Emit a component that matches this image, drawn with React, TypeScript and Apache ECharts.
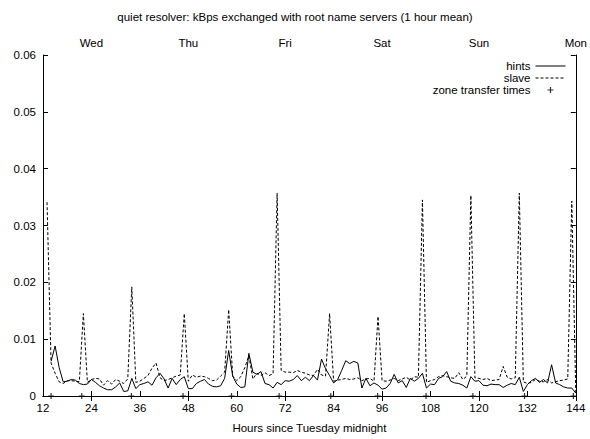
import React, { useEffect, useRef } from "react";
import * as echarts from "echarts";

const titleText = "quiet resolver: kBps exchanged with root name servers (1 hour mean)";
const xAxisName = "Hours since Tuesday midnight";
const firstHour = 13;
const dayTicks = [24, 48, 72, 96, 120, 144];
const dayNames = ["Wed", "Thu", "Fri", "Sat", "Sun", "Mon"];

const hints: (number | null)[] = [
  null, 0.0061, 0.0088, 0.0050, 0.0025, 0.0026, 0.0029, 0.0028, 0.0022, 0.0020,
  0.0021, 0.0029, 0.0024, 0.0018, 0.0014, 0.0011, 0.0011, 0.0016, 0.0023, 0.0008,
  0.0009, 0.0031, 0.0013, 0.0020, 0.0022, 0.0025, 0.0019, 0.0032, 0.0040, 0.0030,
  0.0014, 0.0031, 0.0020, 0.0029, 0.0034, 0.0013, 0.0013, 0.0022, 0.0026, 0.0029,
  0.0021, 0.0017, 0.0016, 0.0018, 0.0031, 0.0080, 0.0035, 0.0021, 0.0015, 0.0016,
  0.0075, 0.0042, 0.0038, 0.0043, 0.0022, 0.0020, 0.0014, 0.0024, 0.0020, 0.0027,
  0.0026, 0.0029, 0.0036, 0.0027, 0.0033, 0.0027, 0.0036, 0.0028, 0.0065, 0.0048,
  0.0036, 0.0023, 0.0029, 0.0045, 0.0062, 0.0057, 0.0061, 0.0058, 0.0014, 0.0031,
  0.0018, 0.0023, 0.0019, 0.0012, 0.0014, 0.0022, 0.0038, 0.0023, 0.0027, 0.0015,
  0.0031, 0.0026, 0.0031, 0.0040, 0.0014, 0.0021, 0.0020, 0.0031, 0.0034, 0.0043,
  0.0026, 0.0023, 0.0022, 0.0019, 0.0014, 0.0034, 0.0026, 0.0027, 0.0019, 0.0018,
  0.0021, 0.0020, 0.0020, 0.0015, 0.0019, 0.0022, 0.0020, 0.0033, 0.0008, 0.0020,
  0.0027, 0.0031, 0.0024, 0.0029, 0.0023, 0.0055, 0.0023, 0.0020, 0.0016, 0.0014,
  0.0014, 0.0005,
];

const slave: number[] = [
  0.0341, 0.0058, 0.0040, 0.0025, 0.0022, 0.0027, 0.0027, 0.0026, 0.0025, 0.0145,
  0.0024, 0.0029, 0.0031, 0.0030, 0.0019, 0.0027, 0.0021, 0.0029, 0.0026, 0.0022,
  0.0030, 0.0192, 0.0024, 0.0026, 0.0031, 0.0036, 0.0049, 0.0058, 0.0032, 0.0027,
  0.0029, 0.0032, 0.0035, 0.0037, 0.0145, 0.0026, 0.0037, 0.0033, 0.0035, 0.0034,
  0.0031, 0.0027, 0.0028, 0.0035, 0.0042, 0.0152, 0.0035, 0.0027, 0.0034, 0.0050,
  0.0071, 0.0030, 0.0040, 0.0036, 0.0041, 0.0036, 0.0039, 0.0357, 0.0045, 0.0042,
  0.0042, 0.0041, 0.0045, 0.0042, 0.0040, 0.0037, 0.0036, 0.0047, 0.0037, 0.0035,
  0.0145, 0.0026, 0.0028, 0.0029, 0.0031, 0.0029, 0.0030, 0.0032, 0.0027, 0.0030,
  0.0031, 0.0026, 0.0140, 0.0027, 0.0026, 0.0028, 0.0031, 0.0027, 0.0030, 0.0033,
  0.0028, 0.0034, 0.0033, 0.0345, 0.0024, 0.0027, 0.0029, 0.0034, 0.0036, 0.0034,
  0.0032, 0.0031, 0.0041, 0.0029, 0.0035, 0.0353, 0.0032, 0.0031, 0.0029, 0.0031,
  0.0027, 0.0028, 0.0029, 0.0052, 0.0033, 0.0030, 0.0032, 0.0357, 0.0025, 0.0022,
  0.0024, 0.0029, 0.0026, 0.0025, 0.0029, 0.0023, 0.0025, 0.0027, 0.0028, 0.0030,
  0.0343, 0.0002,
];

const zoneTransferTimes = [14, 21.6, 33.9, 46.7, 58.7, 70.5, 83.3, 94.9, 106.9, 118.5, 131.3, 143.4];

const FONT = "Liberation Sans";
const FS = 11.5;
const PLUS = "path://M4,0H6V4H10V6H6V10H4V6H0V4H4Z";

export default function App() {
  const ref = useRef<HTMLDivElement>(null);
  useEffect(() => {
    if (!ref.current) return;
    const chart = echarts.init(ref.current, undefined, { renderer: "svg" });
    const hintsData = hints.map((v, i) => [firstHour + i, v]);
    const slaveData = slave.map((v, i) => [firstHour + i, v]);
    const ztData = zoneTransferTimes.map((h) => [h, 0]);
    const textStyle = { fontFamily: FONT, fontSize: FS, color: "#000" };
    const hiddenSymbol = { color: "rgba(0,0,0,0)", borderWidth: 0, opacity: 0 };
    chart.setOption({
      animation: false,
      backgroundColor: "#fff",
      textStyle,
      title: {
        text: titleText,
        left: "center",
        top: 6,
        textStyle: { ...textStyle, fontWeight: "normal" },
      },
      legend: {
        orient: "vertical",
        align: "right",
        right: 24,
        top: 60,
        padding: 0,
        itemWidth: 30,
        itemHeight: 6,
        itemGap: 0,
        textStyle: { ...textStyle },
        data: [
          { name: "hints", itemStyle: hiddenSymbol, lineStyle: { width: 1, color: "#000" } },
          { name: "slave", itemStyle: hiddenSymbol, lineStyle: { width: 1, color: "#000", type: [3, 2] } },
          { name: "zone transfer times", icon: PLUS },
        ],
      },
      grid: { left: 43, right: 9, top: 55, bottom: 41, containLabel: false },
      xAxis: [
        {
          type: "value",
          position: "bottom",
          min: 12,
          max: 144,
          interval: 12,
          name: xAxisName,
          nameLocation: "middle",
          nameGap: 26,
          nameTextStyle: { ...textStyle },
          axisLine: { lineStyle: { color: "#000", width: 1 } },
          axisTick: { inside: true, length: 5, lineStyle: { color: "#000" } },
          axisLabel: { margin: 6, ...textStyle },
          splitLine: { show: false },
        },
        {
          type: "value",
          position: "top",
          min: 12,
          max: 144,
          axisLine: { lineStyle: { color: "#000", width: 1 } },
          axisTick: { inside: true, length: 5, customValues: dayTicks, lineStyle: { color: "#000" } },
          axisLabel: {
            margin: 6,
            ...textStyle,
            customValues: dayTicks,
            formatter: (v: number) => {
              const i = dayTicks.indexOf(v);
              return i >= 0 ? dayNames[i] : "";
            },
          },
          splitLine: { show: false },
        },
      ],
      yAxis: [
        {
          type: "value",
          position: "left",
          min: 0,
          max: 0.06,
          interval: 0.01,
          axisLine: { show: true, lineStyle: { color: "#000", width: 1 } },
          axisTick: { show: true, inside: true, length: 5, lineStyle: { color: "#000" } },
          axisLabel: {
            margin: 7,
            ...textStyle,
            formatter: (v: number) => (v === 0 ? "0" : v.toFixed(2)),
          },
          splitLine: { show: false },
        },
        {
          type: "value",
          position: "right",
          min: 0,
          max: 0.06,
          interval: 0.01,
          axisLine: { show: true, lineStyle: { color: "#000", width: 1 } },
          axisTick: { show: true, inside: true, length: 5, lineStyle: { color: "#000" } },
          axisLabel: { show: false },
          splitLine: { show: false },
        },
      ],
      series: [
        {
          name: "hints",
          type: "line",
          xAxisIndex: 0,
          yAxisIndex: 0,
          data: hintsData,
          symbol: "none",
          color: "#000",
          lineStyle: { color: "#000", width: 1 },
          connectNulls: false,
        },
        {
          name: "slave",
          type: "line",
          xAxisIndex: 0,
          yAxisIndex: 0,
          data: slaveData,
          symbol: "none",
          color: "#000",
          lineStyle: { color: "#000", width: 1, type: [3, 2] },
        },
        {
          name: "zone transfer times",
          type: "scatter",
          xAxisIndex: 0,
          yAxisIndex: 0,
          data: ztData,
          symbol: PLUS,
          symbolSize: 6,
          symbolKeepAspect: true,
          clip: false,
          color: "#000",
          itemStyle: { color: "#000" },
        },
      ],
    });
    return () => chart.dispose();
  }, []);
  return <div ref={ref} style={{ width: 590, height: 439, position: "absolute", left: 0, top: 0 }} />;
}
